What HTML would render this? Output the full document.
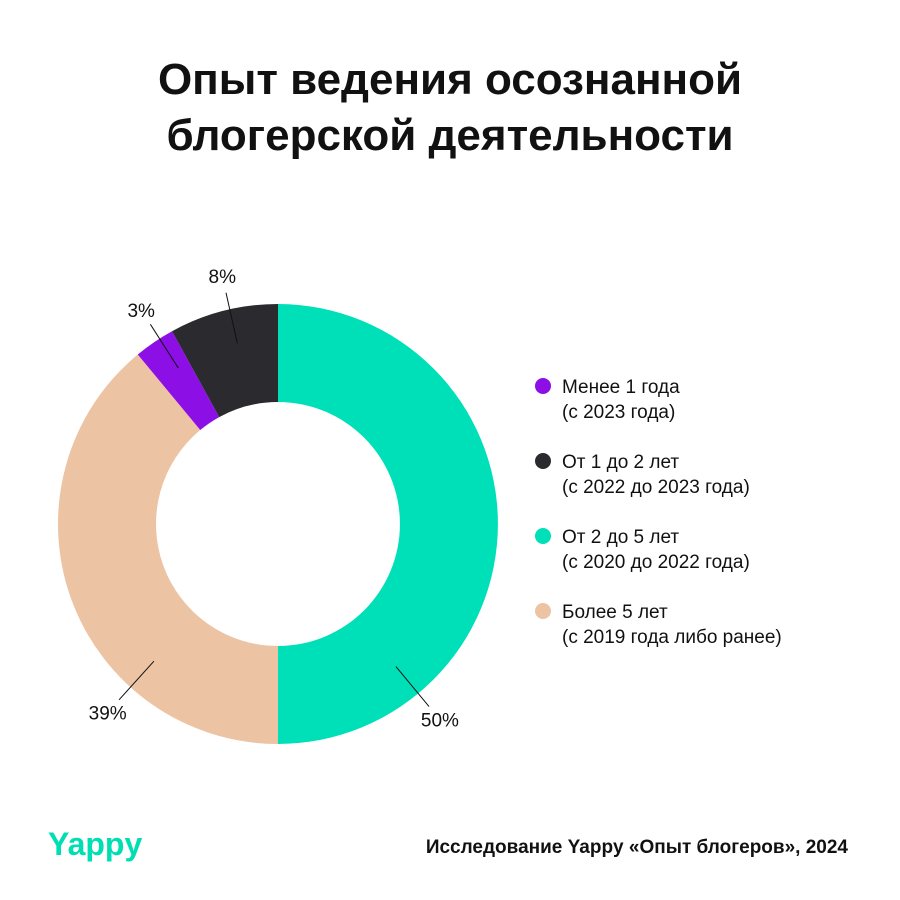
<!DOCTYPE html>
<html><head><meta charset="utf-8"><style>
body{margin:0;background:#fff;}
#c{position:relative;width:900px;height:900px;overflow:hidden;font-family:"Liberation Sans","DejaVu Sans",sans-serif;color:#111;}
</style></head><body>
<div id="c">
<svg width="900" height="900" id="svg">
<text x="450" y="94" text-anchor="middle" font-size="44" font-weight="bold" fill="#111">Опыт ведения осознанной</text>
<text x="450" y="150" text-anchor="middle" font-size="44" font-weight="bold" fill="#111">блогерской деятельности</text>
<g id="slices"></g>
<g id="legend"></g>
<text x="48" y="855" font-size="32" font-weight="bold" fill="#00dfb4">Yappy</text>
<text x="848" y="853" text-anchor="end" font-size="19" font-weight="bold" fill="#111">Исследование Yappy «Опыт блогеров», 2024</text>
</svg>
</div>
<script>
const categories=["От 2 до 5 лет","Более 5 лет","Менее 1 года","От 1 до 2 лет"];
const values=[50,39,3,8];
const colors=["#00e0b8","#ecc3a3","#8c0fe6","#2b2b2f"];
const labelText=["50%","39%","3%","8%"];
const labelFrac=[0.78,0.3,0.65,0.56];
const legendOrder=[2,3,0,1];
const legendLine1=["Менее 1 года","От 1 до 2 лет","От 2 до 5 лет","Более 5 лет"];
const legendLine2=["(с 2023 года)","(с 2022 до 2023 года)","(с 2020 до 2022 года)","(с 2019 года либо ранее)"];
const NS="http://www.w3.org/2000/svg";
const cx=278,cy=524,R=220,r=122;
const total=values.reduce((a,b)=>a+b,0);
function pt(a,rad){return [cx+rad*Math.sin(a),cy-rad*Math.cos(a)];}
const g=document.getElementById('slices');
let a0=0;
values.forEach((v,i)=>{
 const a1=a0+v/total*2*Math.PI;
 const p1=pt(a0,R),p2=pt(a1,R),p3=pt(a1,r),p4=pt(a0,r);
 const lg=(a1-a0)>Math.PI?1:0;
 const p=document.createElementNS(NS,'path');
 p.setAttribute('d',`M${p1}A${R},${R} 0 ${lg} 1 ${p2}L${p3}A${r},${r} 0 ${lg} 0 ${p4}Z`);
 p.setAttribute('fill',colors[i]);
 
 
 g.appendChild(p);
 const am=a0+(a1-a0)*labelFrac[i];
 const l1=pt(am,185),l2=pt(am,237);
 const ln=document.createElementNS(NS,'line');
 ln.setAttribute('x1',l1[0]);ln.setAttribute('y1',l1[1]);ln.setAttribute('x2',l2[0]);ln.setAttribute('y2',l2[1]);
 ln.setAttribute('stroke','#111');ln.setAttribute('stroke-width','1');
 
 
 g.appendChild(ln);
 const lp=pt(am,254);
 const t=document.createElementNS(NS,'text');
 t.setAttribute('x',lp[0]);t.setAttribute('y',lp[1]+7);t.setAttribute('text-anchor','middle');
 t.setAttribute('font-size','19');t.setAttribute('fill','#111');
 t.textContent=labelText[i];
 
 
 g.appendChild(t);
 a0=a1;
});
const lgG=document.getElementById('legend');
legendOrder.forEach((ci,k)=>{
 const y=386+k*75;
 const c=document.createElementNS(NS,'circle');
 c.setAttribute('cx',543);c.setAttribute('cy',y);c.setAttribute('r',8);c.setAttribute('fill',colors[ci]);
 
 
 lgG.appendChild(c);
 [legendLine1[k],legendLine2[k]].forEach((s,j)=>{
  const t=document.createElementNS(NS,'text');
  t.setAttribute('x',562);t.setAttribute('y',y+7+j*25);t.setAttribute('font-size','19');t.setAttribute('fill','#111');
  t.textContent=s;
  
  
  lgG.appendChild(t);
 });
});
</script>
</body></html>
